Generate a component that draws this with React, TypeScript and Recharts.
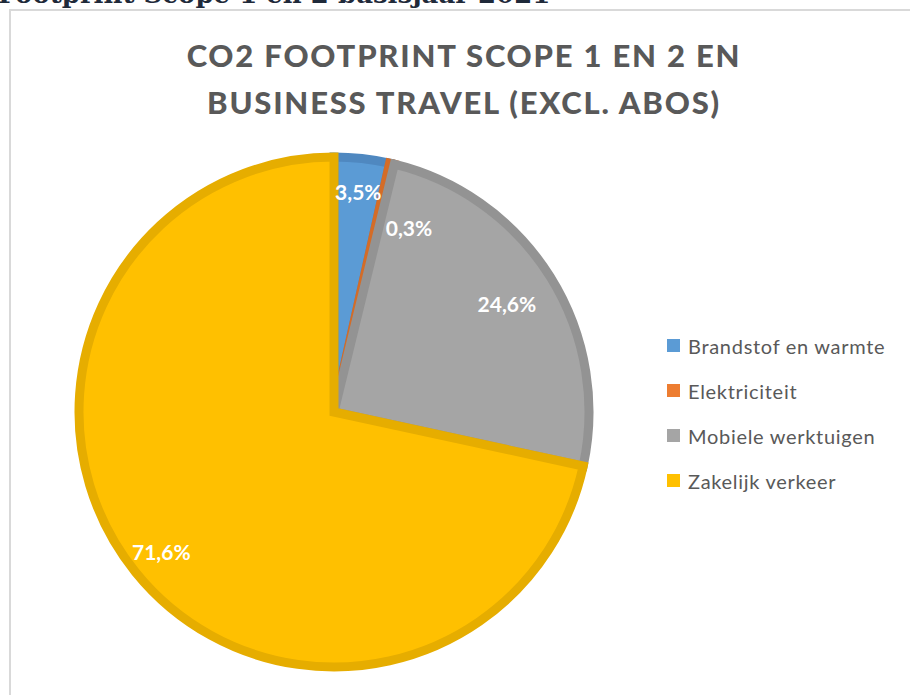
import React from "react";
import { PieChart, Pie, Cell } from "recharts";

const categories = ["Brandstof en warmte", "Elektriciteit", "Mobiele werktuigen", "Zakelijk verkeer"];
const shares = [3.5, 0.3, 24.6, 71.6];
const fills = ["#5b9bd5", "#ed7d31", "#a5a5a5", "#ffc000"];
const borders = ["#4f88c0", "#d46c27", "#939393", "#e6ad00"];
const labelTexts = ["3,5%", "0,3%", "24,6%", "71,6%"];

const data = categories.map((name, i) => ({ name, value: shares[i] }));

const RAD = Math.PI / 180;

const renderLabel = (props: any) => {
  const { cx, cy, midAngle, outerRadius, index, percent } = props;
  let ang = midAngle;
  let r = outerRadius * 0.87;
  if (percent < 0.01) {
    ang = midAngle - 9;
    r = outerRadius * 0.78;
  } else if (percent < 0.3 && percent > 0.1) {
    r = outerRadius * 0.8;
  }
  const x = cx + r * Math.cos(-ang * RAD);
  const y = cy + r * Math.sin(-ang * RAD);
  return (
    <text
      x={x}
      y={y}
      fill="#ffffff"
      textAnchor="middle"
      dominantBaseline="central"
      fontFamily="Lato, 'Open Sans', sans-serif"
      fontWeight="bold"
      fontSize={21}
    >
      {labelTexts[index]}
    </text>
  );
};

export default function App() {
  return (
    <div style={{ position: "absolute", left: 0, top: 0, width: 910, height: 695, overflow: "hidden", background: "#fff" }}>
      <svg width={910} height={14} style={{ position: "absolute", left: 0, top: 0 }}>
        <text x={-2} y={3} fontFamily="'DejaVu Serif', serif" fontWeight="bold" fontSize={26} fill="#1f2a3a">
          Footprint Scope 1 en 2 basisjaar 2021
        </text>
      </svg>
      <div
        style={{
          position: "absolute",
          left: 9,
          top: 9,
          width: 920,
          height: 720,
          border: "2px solid #d9d9d9",
          boxSizing: "border-box",
        }}
      />
      <div
        style={{
          position: "absolute",
          left: 0,
          top: 32,
          width: 928,
          textAlign: "center",
          fontFamily: "Lato, 'Open Sans', sans-serif",
          fontWeight: 900,
          fontSize: 31,
          lineHeight: "47px",
          color: "#595959",
          letterSpacing: 1.8,
        }}
      >
        CO2 FOOTPRINT SCOPE 1 EN 2 EN
        <br />
        BUSINESS TRAVEL (EXCL. ABOS)
      </div>
      <div style={{ position: "absolute", left: 0, top: 0 }}>
        <PieChart width={910} height={695} margin={{ top: 0, right: 0, bottom: 0, left: 0 }}>
          <Pie
            data={data}
            dataKey="value"
            nameKey="name"
            cx={334}
            cy={412}
            outerRadius={255}
            startAngle={90}
            endAngle={-270}
            isAnimationActive={false}
            label={renderLabel}
            labelLine={false}
            strokeWidth={9}
          >
            {data.map((d, i) => (
              <Cell key={d.name} fill={fills[i]} stroke={borders[i]} />
            ))}
          </Pie>
        </PieChart>
      </div>
      <div
        style={{
          position: "absolute",
          left: 667,
          top: 323,
          fontFamily: "Lato, 'Open Sans', sans-serif",
          fontSize: 20,
          letterSpacing: 0.7,
          color: "#595959",
        }}
      >
        {categories.map((c, i) => (
          <div key={c} style={{ display: "flex", alignItems: "center", height: 45 }}>
            <span style={{ display: "inline-block", width: 13, height: 13, background: fills[i], marginRight: 8 }} />
            <span>{c}</span>
          </div>
        ))}
      </div>
    </div>
  );
}
